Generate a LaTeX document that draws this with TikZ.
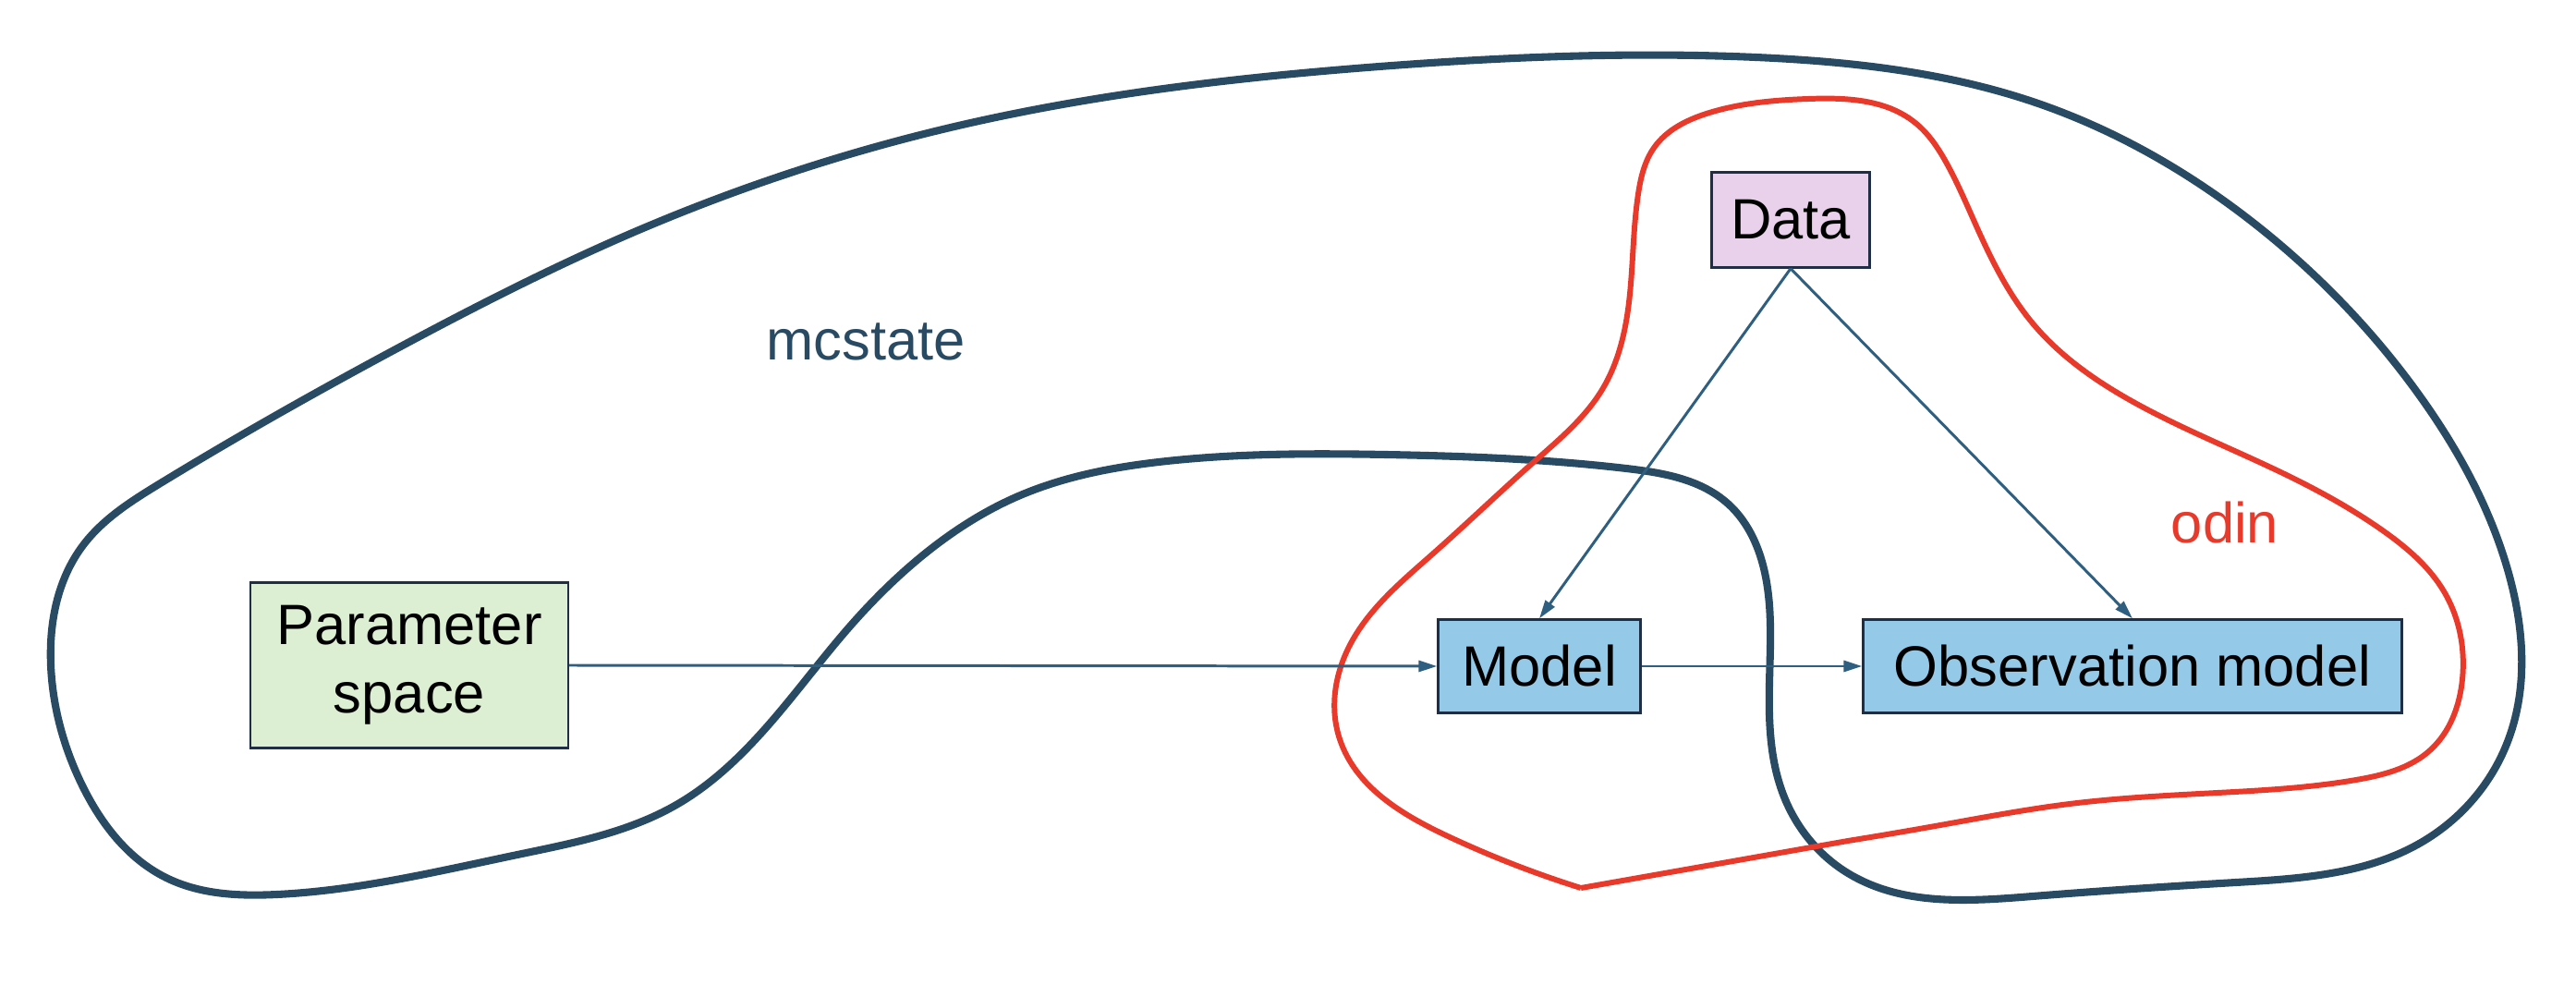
\documentclass[tikz,border=0pt]{standalone}
\usepackage{fontspec}
\setmainfont{Liberation Sans}
\usetikzlibrary{arrows.meta,hobby}
\definecolor{mcnavy}{HTML}{294A63}
\definecolor{odinred}{HTML}{E8392A}
\definecolor{linkblue}{HTML}{2F5F80}
\definecolor{boxedge}{HTML}{1F2E44}
\definecolor{paramgreen}{HTML}{DDEFD3}
\definecolor{datapink}{HTML}{EAD1EB}
\definecolor{modelblue}{HTML}{94C9E8}
\begin{document}
\begin{tikzpicture}[
    every node/.style={font=\fontsize{17.5pt}{21pt}\selectfont},
    block/.style={draw=boxedge, line width=0.65pt, inner sep=0pt, align=center},
    link/.style={draw=linkblue, line width=0.85pt, -{Triangle[length=2mm,width=1.2mm]}},
    mcloop/.style={draw=mcnavy, line width=2.3pt},
    odinloop/.style={draw=odinred, line width=1.7pt, line join=miter}
]
                    \useasboundingbox (0,0) rectangle (27.88,-10.66);
                    % outer and inner package outlines
                    \draw[mcloop, use Hobby shortcut, closed=true] (0.55,-7.20) .. (0.90,-5.90) .. (1.72,-5.24)
                        .. (4.30,-3.77) .. (6.89,-2.50) .. (10.33,-1.37) .. (14.93,-0.72) .. (19.00,-0.62)
                        .. (22.00,-1.10) .. (24.50,-2.50) .. (26.20,-4.30) .. (27.15,-6.20) .. (27.15,-8.00)
                        .. (26.20,-9.12) .. (24.20,-9.55) .. (22.00,-9.70) .. (20.00,-9.45) .. (19.30,-8.60)
                        .. (19.15,-7.40) .. (19.12,-6.30) .. (18.70,-5.45) .. (17.60,-5.07) .. (15.00,-4.92)
                        .. (12.63,-4.99) .. (11.02,-5.37) .. (10.00,-6.00) .. (9.18,-6.80) .. (8.40,-7.75)
                        .. (7.32,-8.71) .. (5.60,-9.25) .. (3.00,-9.68) .. (1.80,-9.50) .. (0.89,-8.50);
                    \draw[odinloop, use Hobby shortcut] (17.11,-9.61) -- (20.00,-9.10) .. (21.00,-8.93)
                        .. (22.40,-8.70) .. (24.00,-8.58) .. (25.50,-8.44) .. (26.30,-8.12) .. (26.65,-7.35)
                        .. (26.45,-6.40) .. (25.80,-5.75) .. (24.60,-5.07) .. (23.00,-4.30) .. (22.00,-3.50)
                        .. (21.40,-2.47) .. (21.07,-1.77) .. (20.73,-1.33) .. (19.57,-1.07) .. (18.50,-1.22)
                        .. (17.90,-1.60) .. (17.73,-2.10) .. (17.62,-3.35) .. (17.35,-4.20) .. (16.60,-5.00)
                        .. (15.50,-6.00) .. (14.60,-7.00) .. (14.50,-8.00) .. (15.67,-9.05) .. (17.11,-9.61);
                    \node[text=mcnavy] (mcstate) at (9.37,-3.70) {mcstate};
                    \node[text=odinred] (odin) at (24.08,-5.66) {odin};
                    % blocks
                    \node[block, fill=paramgreen, minimum width=3.44cm, minimum height=1.79cm] (param) at (4.43,-7.20) {Parameter\\space};
                    \node[block, fill=datapink, minimum width=1.71cm, minimum height=1.03cm] (data) at (19.38,-2.38) {Data};
                    \node[block, fill=modelblue, minimum width=2.19cm, minimum height=1.01cm] (model) at (16.66,-7.21) {Model};
                    \node[block, fill=modelblue, minimum width=5.83cm, minimum height=1.01cm] (obs) at (23.08,-7.21) {Observation model};
                    \draw[link] (param.east) -- (model.west);
                    \draw[link] (model.east) -- (obs.west);
                    \draw[link] (data.south) -- (model.north);
                    \draw[link] (data.south) -- (obs.north);
                \end{tikzpicture}
\end{document}
